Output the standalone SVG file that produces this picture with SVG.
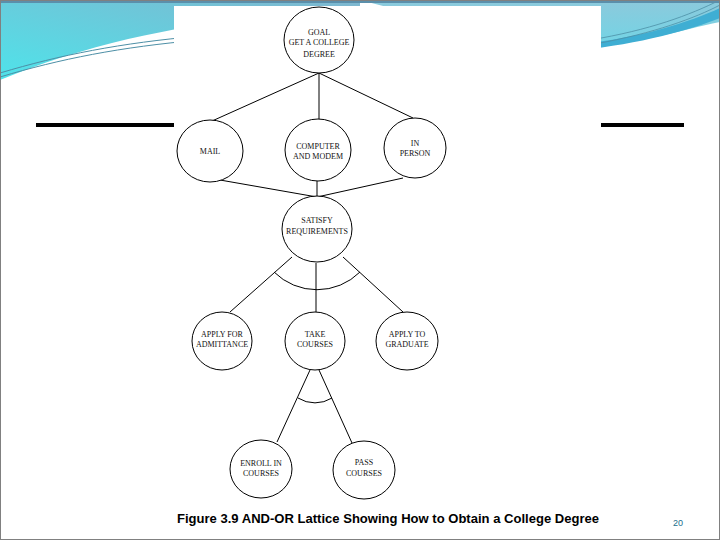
<svg xmlns="http://www.w3.org/2000/svg" width="720" height="540" viewBox="0 0 720 540">
<defs>
<linearGradient id="gl" x1="1" y1="0" x2="0" y2="1">
<stop offset="0" stop-color="#7fb6cf"/>
<stop offset="1" stop-color="#4fe3ea"/>
</linearGradient>
<linearGradient id="gr" x1="0" y1="0" x2="0" y2="1">
<stop offset="0" stop-color="#8cc9dc"/>
<stop offset="1" stop-color="#6fd6e6"/>
</linearGradient>
<style>
.n{fill:#fff;stroke:#000;stroke-width:1}
.t{font-family:"Liberation Serif","Times New Roman",serif;font-size:8px;fill:#111;text-anchor:middle}
.c line,.c path{stroke:#000;stroke-width:1;fill:none}
</style>
</defs>
<rect x="0" y="0" width="720" height="540" fill="#fff"/>
<!-- top decoration -->
<path d="M0,0 H360 V10 C250,14 120,30 0,80 Z" fill="url(#gl)"/>
<path d="M0,73 C60,55 120,43 200,36" stroke="#4d8fa6" stroke-width="1" fill="none"/>
<path d="M0,77 C60,59 120,47 200,40" stroke="#4d8fa6" stroke-width="1" fill="none"/>
<path d="M360,0 H720 V22 C680,30 640,44 560,52 Z" fill="url(#gr)"/>
<path d="M580,44 C640,38 690,22 720,8 L720,18 C690,30 640,44 580,50 Z" fill="#3faed3"/>
<path d="M590,40 C650,30 690,15 720,0" stroke="#4d8fa6" stroke-width="0.8" fill="none"/>
<path d="M595,44 C655,33 695,18 720,5" stroke="#4d8fa6" stroke-width="0.8" fill="none"/>
<rect x="0" y="0" width="720" height="3" fill="#5b8fab"/>
<rect x="36" y="123" width="140" height="4" fill="#000"/>
<rect x="600" y="123" width="84" height="4" fill="#000"/>
<!-- figure panel -->
<rect x="174" y="6" width="427" height="525" fill="#fff"/>
<g class="c" id="connectors">
<line x1="319" y1="73" x2="212" y2="121"/>
<line x1="319" y1="73" x2="319" y2="120"/>
<line x1="319" y1="73" x2="413" y2="118"/>
<line x1="220" y1="180" x2="317" y2="197"/>
<line x1="317" y1="181" x2="317" y2="197"/>
<line x1="403" y1="178" x2="317" y2="197"/>
<line x1="292" y1="257" x2="230" y2="312"/>
<line x1="316" y1="263" x2="316" y2="312"/>
<line x1="343" y1="257" x2="403" y2="312"/>
<path d="M274,272 A61,61 0 0 0 360,272"/>
<line x1="310" y1="370" x2="277" y2="442"/>
<line x1="319" y1="370" x2="352" y2="443"/>
<path d="M298,398 A32,32 0 0 0 332,398"/>
</g>
<g id="goal"><ellipse class="n" cx="319" cy="40" rx="35" ry="33"/>
<text class="t" x="319" y="35">GOAL</text><text class="t" x="319" y="45">GET A COLLEGE</text><text class="t" x="319" y="57" fill="#223">DEGREE</text></g>
<g id="mail"><ellipse class="n" cx="210" cy="151" rx="33" ry="31"/><text class="t" x="210" y="154">MAIL</text></g>
<g id="computer"><ellipse class="n" cx="318" cy="150" rx="33" ry="31"/><text class="t" x="318" y="149">COMPUTER</text><text class="t" x="318" y="159">AND MODEM</text></g>
<g id="inperson"><ellipse class="n" cx="415" cy="148" rx="31" ry="30"/><text class="t" x="415" y="146">IN</text><text class="t" x="415" y="156">PERSON</text></g>
<g id="satisfy"><ellipse class="n" cx="317" cy="229" rx="35" ry="33"/><text class="t" x="317" y="223">SATISFY</text><text class="t" x="317" y="234">REQUIREMENTS</text></g>
<g id="apply-admit"><ellipse class="n" cx="222" cy="341" rx="30" ry="29"/><text class="t" x="222" y="337">APPLY FOR</text><text class="t" x="222" y="347">ADMITTANCE</text></g>
<g id="take"><ellipse class="n" cx="315" cy="341" rx="30" ry="29"/><text class="t" x="315" y="337">TAKE</text><text class="t" x="315" y="347">COURSES</text></g>
<g id="apply-grad"><ellipse class="n" cx="407" cy="341" rx="31" ry="29"/><text class="t" x="407" y="337">APPLY TO</text><text class="t" x="407" y="347">GRADUATE</text></g>
<g id="enroll"><ellipse class="n" cx="261" cy="469" rx="31" ry="29"/><text class="t" x="261" y="466">ENROLL IN</text><text class="t" x="261" y="476">COURSES</text></g>
<g id="pass"><ellipse class="n" cx="364" cy="470" rx="31" ry="29"/><text class="t" x="364" y="465">PASS</text><text class="t" x="364" y="476" fill="#223">COURSES</text></g>
<text x="177" y="523" font-family="Liberation Sans, Arial, sans-serif" font-weight="bold" font-size="13" textLength="422" lengthAdjust="spacingAndGlyphs" fill="#000">Figure 3.9  AND-OR Lattice Showing How to Obtain a College Degree</text>
<text x="678" y="526" font-family="Liberation Sans, Arial, sans-serif" font-size="9" text-anchor="middle" fill="#1b6e8c">20</text>
<rect x="0.5" y="0.5" width="719" height="539" fill="none" stroke="#808080" stroke-width="1"/>
</svg>
